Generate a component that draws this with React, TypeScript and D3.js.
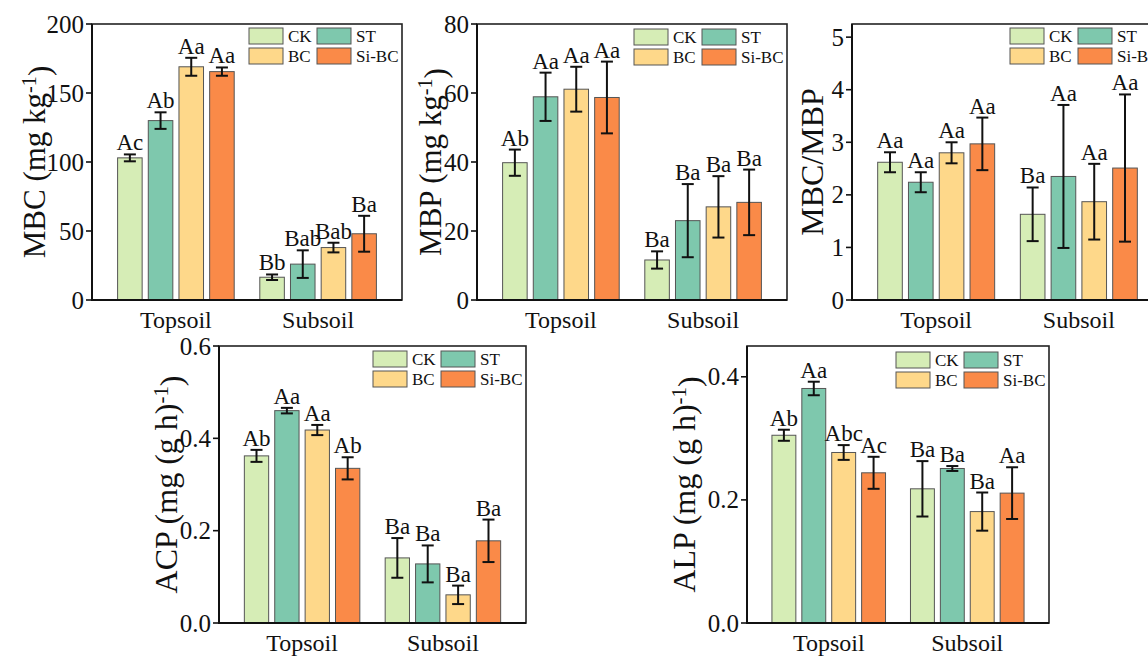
import React from "react";
import * as d3 from "d3";

const groups = ["Topsoil", "Subsoil"];
const treatments = ["CK", "ST", "BC", "Si-BC"];
const colors = ["#d6edb6", "#7ec8ad", "#fed88a", "#fa8a48"];

// MBC (mg kg-1)
const mbcMean = [[103, 130, 169, 165.5], [16.5, 26, 38, 48]];
const mbcErr = [[2.5, 6, 6.5, 3], [2, 10, 3.5, 13]];
const mbcLetters = [["Ac", "Ab", "Aa", "Aa"], ["Bb", "Bab", "Bab", "Ba"]];

// MBP (mg kg-1)
const mbpMean = [[39.8, 58.9, 61.1, 58.7], [11.6, 23, 27, 28.3]];
const mbpErr = [[3.8, 7, 6.5, 10.4], [2.5, 10.6, 8.9, 9.5]];
const mbpLetters = [["Ab", "Aa", "Aa", "Aa"], ["Ba", "Ba", "Ba", "Ba"]];

// MBC/MBP
const ratioMean = [[2.62, 2.24, 2.8, 2.97], [1.63, 2.35, 1.87, 2.51]];
const ratioErr = [[0.19, 0.19, 0.2, 0.5], [0.51, 1.36, 0.72, 1.4]];
const ratioLetters = [["Aa", "Aa", "Aa", "Aa"], ["Ba", "Aa", "Aa", "Aa"]];

// ACP
const acpMean = [[0.362, 0.46, 0.418, 0.335], [0.141, 0.128, 0.061, 0.178]];
const acpErr = [[0.013, 0.006, 0.011, 0.024], [0.043, 0.04, 0.02, 0.046]];
const acpLetters = [["Ab", "Aa", "Aa", "Ab"], ["Ba", "Ba", "Ba", "Ba"]];

// ALP
const alpMean = [[0.305, 0.381, 0.277, 0.244], [0.218, 0.251, 0.181, 0.211]];
const alpErr = [[0.009, 0.011, 0.012, 0.026], [0.045, 0.004, 0.031, 0.042]];
const alpLetters = [["Ab", "Aa", "Abc", "Ac"], ["Ba", "Ba", "Ba", "Aa"]];

const FONT = "'Liberation Serif', 'Times New Roman', serif";

type PanelProps = {
  left: number;
  right: number;
  top: number;
  bottom: number;
  max: number;
  ticks: number[];
  fmt: (v: number) => string;
  mean: number[][];
  err: number[][];
  letters: string[][];
  title: React.ReactNode;
  titleX: number;
  titleSize: number;
  legendDy: number;
};

const Panel = (p: PanelProps) => {
  const w = p.right - p.left;
  const y = d3.scaleLinear().domain([0, p.max]).range([p.bottom, p.top]);
  const x0 = d3.scaleBand().domain(groups).range([p.left, p.right]).paddingInner(0.18).paddingOuter(0.18);
  const x1 = d3.scaleBand().domain(treatments).range([0, x0.bandwidth()]).paddingInner(0.2).paddingOuter(0);
  const lgX = p.right - 153;
  const lgY = p.top + p.legendDy;
  return (
    <g fontFamily={FONT}>
      {groups.map((g, gi) =>
        treatments.map((t, ti) => {
          const bx = (x0(g) as number) + (x1(t) as number);
          const cx = bx + x1.bandwidth() / 2;
          const m = p.mean[gi][ti];
          const e = p.err[gi][ti];
          return (
            <g key={g + t}>
              <rect x={bx} y={y(m)} width={x1.bandwidth()} height={y(0) - y(m)} fill={colors[ti]} stroke="#555" strokeWidth={1} />
              <line x1={cx} x2={cx} y1={y(m - e)} y2={y(m + e)} stroke="#111" strokeWidth={2} />
              <line x1={cx - 6} x2={cx + 6} y1={y(m + e)} y2={y(m + e)} stroke="#111" strokeWidth={2} />
              <line x1={cx - 6} x2={cx + 6} y1={y(m - e)} y2={y(m - e)} stroke="#111" strokeWidth={2} />
              <text x={cx} y={y(m + e) - 4} textAnchor="middle" fontSize={23} fill="#111">
                {p.letters[gi][ti]}
              </text>
            </g>
          );
        })
      )}
      <rect x={p.left} y={p.top} width={w} height={p.bottom - p.top} fill="none" stroke="#222" strokeWidth={1.6} />
      <line x1={p.left} x2={p.left} y1={p.top} y2={p.bottom + 1} stroke="#111" strokeWidth={2} />
      <line x1={p.left - 1} x2={p.right} y1={p.bottom} y2={p.bottom} stroke="#111" strokeWidth={2} />
      {p.ticks.map((v) => (
        <g key={v}>
          <line x1={p.left - 6} x2={p.left} y1={y(v)} y2={y(v)} stroke="#111" strokeWidth={1.6} />
          <text x={p.left - 8} y={y(v)} dy="0.34em" textAnchor="end" fontSize={25} fill="#111">
            {p.fmt(v)}
          </text>
        </g>
      ))}
      {groups.map((g) => (
        <text key={g} x={(x0(g) as number) + x0.bandwidth() / 2} y={p.bottom + 28} textAnchor="middle" fontSize={24} fill="#111">
          {g}
        </text>
      ))}
      <text transform={`translate(${p.titleX},${(p.top + p.bottom) / 2}) rotate(-90)`} textAnchor="middle" fontSize={p.titleSize} fill="#111">
        {p.title}
      </text>
      {treatments.map((t, i) => {
        const lx = lgX + (i % 2) * 68;
        const ly = lgY + Math.floor(i / 2) * 20;
        return (
          <g key={t}>
            <rect x={lx} y={ly} width={34} height={16} fill={colors[i]} stroke="#555" strokeWidth={1} />
            <text x={lx + 39} y={ly + 14} fontSize={17} fill="#111">
              {t}
            </text>
          </g>
        );
      })}
    </g>
  );
};

const sup = (s: string) => (
  <tspan dy="-0.45em" fontSize="0.65em">
    {s}
  </tspan>
);

export default function App() {
  const f0 = d3.format("d");
  const f1 = d3.format(".1f");
  return (
    <svg width={1148} height={656} style={{ position: "absolute", left: 0, top: 0, background: "#fff" }}>
      <Panel left={92} right={402} top={24} bottom={300} max={200} ticks={[0, 50, 100, 150, 200]} fmt={f0}
        mean={mbcMean} err={mbcErr} letters={mbcLetters} titleX={45} titleSize={31} legendDy={4}
        title={<>MBC (mg kg{sup("-1")}<tspan dy="0.45em">)</tspan></>} />
      <Panel left={477} right={787} top={24} bottom={300} max={80} ticks={[0, 20, 40, 60, 80]} fmt={f0}
        mean={mbpMean} err={mbpErr} letters={mbpLetters} titleX={441} titleSize={31} legendDy={5}
        title={<>MBP (mg kg{sup("-1")}<tspan dy="0.45em">)</tspan></>} />
      <Panel left={852} right={1163} top={24} bottom={300} max={5.25} ticks={[0, 1, 2, 3, 4, 5]} fmt={f0}
        mean={ratioMean} err={ratioErr} letters={ratioLetters} titleX={823} titleSize={32} legendDy={4}
        title={<>MBC/MBP</>} />
      <Panel left={219} right={526} top={346} bottom={623} max={0.6} ticks={[0, 0.2, 0.4, 0.6]} fmt={f1}
        mean={acpMean} err={acpErr} letters={acpLetters} titleX={177} titleSize={32} legendDy={5}
        title={<>ACP (mg (g h){sup("-1")}<tspan dy="0.45em">)</tspan></>} />
      <Panel left={747} right={1049} top={346} bottom={623} max={0.45} ticks={[0, 0.2, 0.4]} fmt={f1}
        mean={alpMean} err={alpErr} letters={alpLetters} titleX={695} titleSize={32} legendDy={6}
        title={<>ALP (mg (g h){sup("-1")}<tspan dy="0.45em">)</tspan></>} />
    </svg>
  );
}
